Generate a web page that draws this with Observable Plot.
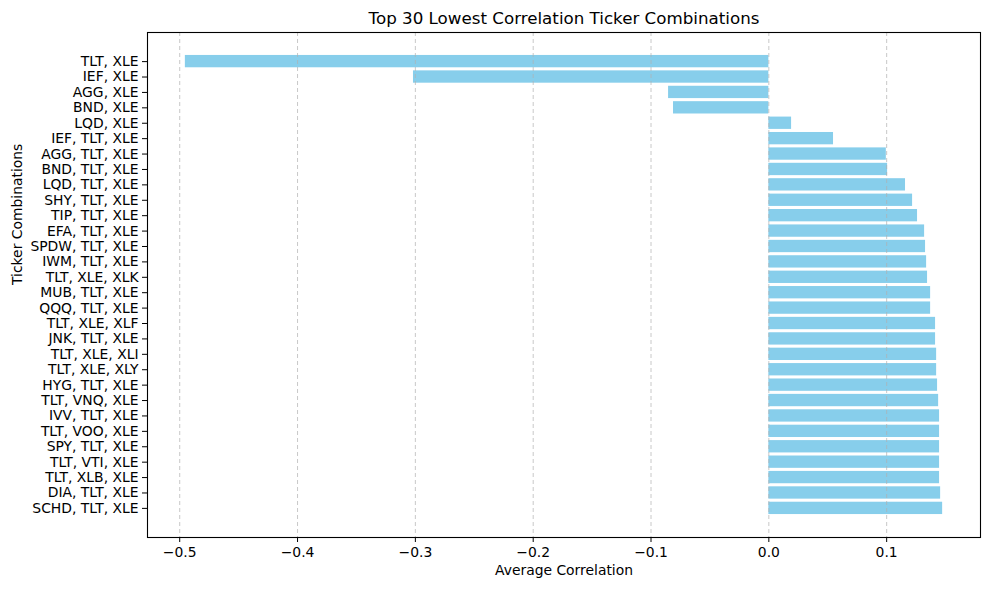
<!DOCTYPE html>
<html>
<head>
<meta charset="utf-8">
<script src="https://cdn.jsdelivr.net/npm/d3@7"></script>
<script src="https://cdn.jsdelivr.net/npm/@observablehq/plot@0.6"></script>
<style>
  html, body { margin: 0; padding: 0; background: #fff; }
</style>
</head>
<body>
<div id="chart"></div>
<script>
const combos = [
  "TLT, XLE", "IEF, XLE", "AGG, XLE", "BND, XLE", "LQD, XLE",
  "IEF, TLT, XLE", "AGG, TLT, XLE", "BND, TLT, XLE", "LQD, TLT, XLE", "SHY, TLT, XLE",
  "TIP, TLT, XLE", "EFA, TLT, XLE", "SPDW, TLT, XLE", "IWM, TLT, XLE", "TLT, XLE, XLK",
  "MUB, TLT, XLE", "QQQ, TLT, XLE", "TLT, XLE, XLF", "JNK, TLT, XLE", "TLT, XLE, XLI",
  "TLT, XLE, XLY", "HYG, TLT, XLE", "TLT, VNQ, XLE", "IVV, TLT, XLE", "TLT, VOO, XLE",
  "SPY, TLT, XLE", "TLT, VTI, XLE", "TLT, XLB, XLE", "DIA, TLT, XLE", "SCHD, TLT, XLE"
];
const avgCorr = [
  -0.4952, -0.3016, -0.0851, -0.0809, 0.0193,
  0.0549, 0.0997, 0.1008, 0.1160, 0.1220,
  0.1262, 0.1322, 0.1330, 0.1339, 0.1347,
  0.1373, 0.1373, 0.1415, 0.1415, 0.1424,
  0.1424, 0.1432, 0.1441, 0.1449, 0.1449,
  0.1449, 0.1449, 0.1449, 0.1458, 0.1475
];
const xTicks = [-0.5, -0.4, -0.3, -0.2, -0.1, 0.0, 0.1];
const title = "Top 30 Lowest Correlation Ticker Combinations";
const xLabel = "Average Correlation";
const yLabel = "Ticker Combinations";

const data = combos.map((c, i) => ({combo: c, value: avgCorr[i]}));
const fmt = d3.format(".1f");
const lo = d3.min(avgCorr), hi = d3.max(avgCorr), pad = (hi - lo) * 0.05;

const chart = Plot.plot({
  width: 989,
  height: 590,
  marginLeft: 147,
  marginRight: 9,
  marginTop: 32,
  marginBottom: 53,
  style: {fontFamily: "DejaVu Sans", fontSize: "13.9px", background: "#fff", color: "#000"},
  x: {domain: [lo - pad, hi + pad]},
  y: {domain: combos, paddingInner: 0.2, paddingOuter: 1.49, round: false},
  marks: [
    Plot.barX(data, {x1: 0, x2: "value", y: "combo", fill: "#87CEEB"}),
    Plot.gridX(xTicks, {stroke: "#b0b0b0", strokeOpacity: 0.7, strokeDasharray: "4,3", strokeWidth: 1}),
    Plot.axisX({ticks: xTicks, tickFormat: fmt, tickSize: 5, tickPadding: 5, fontSize: 13.9, label: null, stroke: "#000"}),
    Plot.axisY({tickSize: 5, tickPadding: 4, fontSize: 13.9, label: null, stroke: "#000"}),
    Plot.frame({stroke: "#000", strokeWidth: 1.1}),
    Plot.text([title], {frameAnchor: "top", dy: -9, lineAnchor: "bottom", fontSize: 16.7, text: d => d, fill: "#000"}),
    Plot.text([xLabel], {frameAnchor: "bottom", dy: 28, lineAnchor: "top", fontSize: 13.9, text: d => d, fill: "#000"}),
    Plot.text([yLabel], {frameAnchor: "left", dx: -130, rotate: -90, fontSize: 13.9, text: d => d, fill: "#000"})
  ]
});
document.getElementById("chart").appendChild(chart);
</script>
</body>
</html>
